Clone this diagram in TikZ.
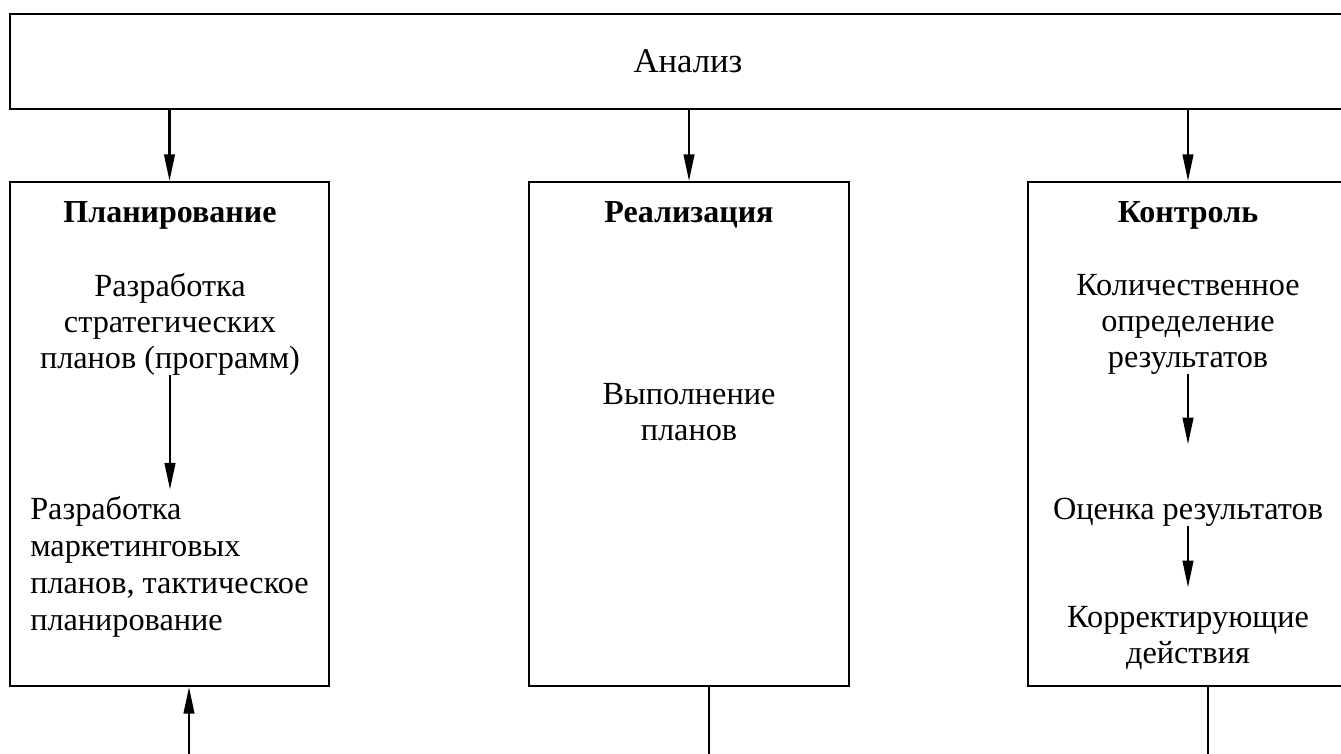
\documentclass[tikz,border=0pt]{standalone}
\usepackage{fontspec}
\setmainfont{Liberation Serif}
\usetikzlibrary{arrows.meta}

\begin{document}
\begin{tikzpicture}[x=0.75pt, y=-0.75pt,
		box/.style={draw, line width=1.6pt, rectangle, inner sep=0pt},
		txt/.style={inner sep=0pt, align=center, font=\fontsize{24.2}{27}\selectfont},
		ttl/.style={inner sep=0pt, font=\fontsize{24}{27}\selectfont\bfseries},
		arr/.style={-{Triangle[length=20pt, width=8pt]}, line width=1.6pt},
		link/.style={line width=1.6pt}]
		\useasboundingbox (0,0) rectangle (1341,753);
		\clip (0,0) rectangle (1341,753);
		
		\node (analiz) [box, minimum width=1017pt, minimum height=71.25pt, font=\fontsize{26}{27}\selectfont] at (688,61.5) {Анализ};
		\node (plan) [box, minimum width=239.25pt, minimum height=378pt] at (169.5,434) {};
		\node (real) [box, minimum width=240pt, minimum height=378pt] at (689,434) {};
		\node (kontr) [box, minimum width=240pt, minimum height=378pt] at (1188,434) {};
		
		% planning
		\node (planT) [ttl] at (170,215) {Планирование};
		\node (plan1) [txt] at (170,324) {Разработка\\стратегических\\планов (программ)};
		\node (plan2) [txt, align=left, anchor=west, font=\fontsize{24.2}{27.75}\selectfont] at (30,567) {Разработка\\маркетинговых\\планов, тактическое\\планирование};
		
		% realisation
		\node (realT) [ttl] at (689,215) {Реализация};
		\node (real1) [txt] at (689,412) {Выполнение\\планов};
		
		% control
		\node (kontrT) [ttl] at (1188,215) {Контроль};
		\node (kontr1) [txt] at (1188,324) {Количественное\\определение\\результатов};
		\node (kontr2) [txt] at (1188,512) {Оценка результатов};
		\node (kontr3) [txt] at (1188,638) {Корректирующие\\действия};
		
		\coordinate (inP) at (189,760);
		\coordinate (outR) at (709,760);
		\coordinate (outK) at (1208,760);
		
		\draw[arr] (plan.north |- analiz.south) -- (plan.north);
		\draw[arr] (real.north |- analiz.south) -- (real.north);
		\draw[arr] (kontr.north |- analiz.south) -- (kontr.north);
		
		\draw[arr, shorten >=5pt] (plan1.south) -- (plan2.north -| plan1.south);
		\draw[arr, shorten >=40pt] (kontr1.south) -- (kontr2.north);
		\draw[arr, shorten >=14pt] (kontr2.south) -- (kontr3.north);
		
		\draw[arr] (inP) -- (inP |- plan.south);
		\draw[link] (real.south -| outR) -- (outR);
		\draw[link] (kontr.south -| outK) -- (outK);
	\end{tikzpicture}
\end{document}
